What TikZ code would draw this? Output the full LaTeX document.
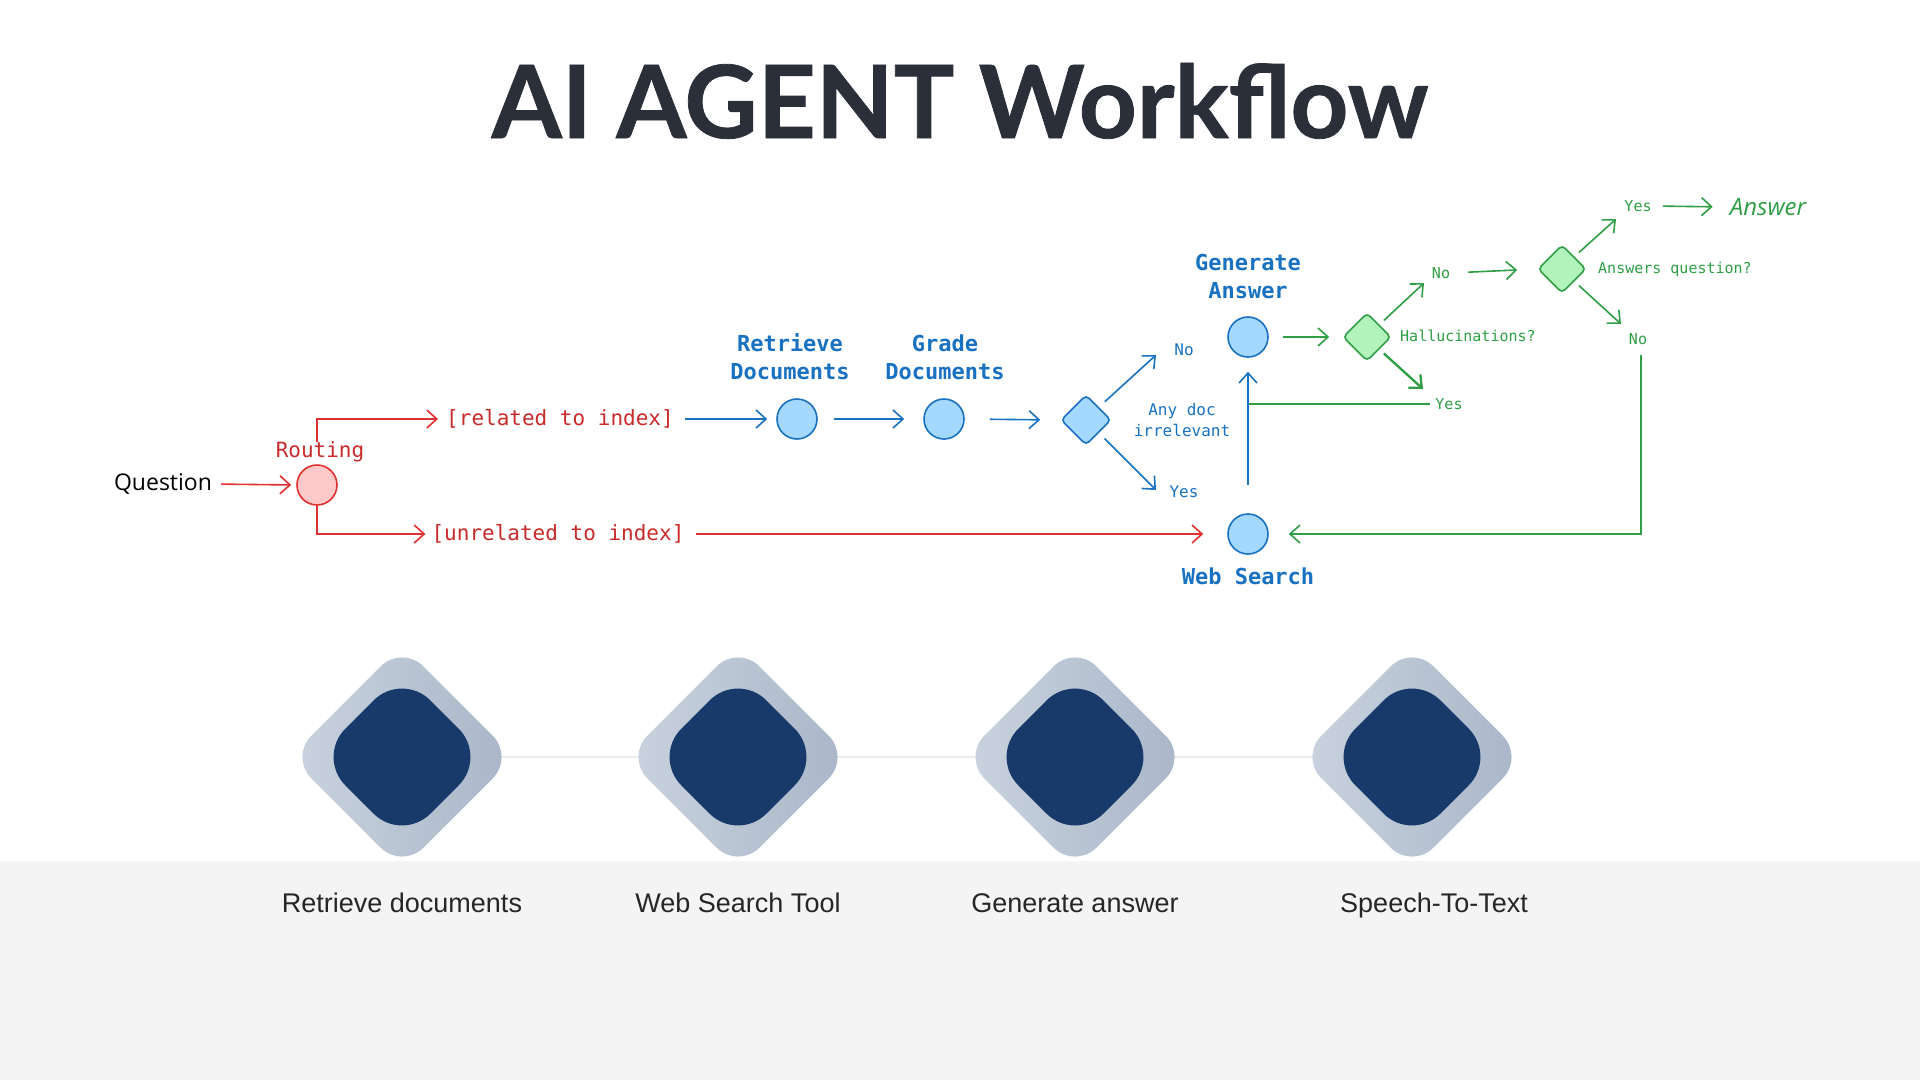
\documentclass[tikz,border=0pt]{standalone}
\usepackage{fontspec}
\setmainfont{Liberation Sans}
\newfontfamily\mytitle{Lato}[BoldFeatures={FakeBold=0.8}]
\newfontfamily\mymono{DejaVu Sans Mono}
\newfontfamily\myhand{Open Sans}
\usetikzlibrary{arrows.meta,shapes.geometric,calc}

\definecolor{blueS}{HTML}{1971C2}
\definecolor{blueF}{HTML}{A5D8FF}
\definecolor{redS}{HTML}{E03131}
\definecolor{redT}{HTML}{C92A2A}
\definecolor{redF}{HTML}{FFC9C9}
\definecolor{greenS}{HTML}{2F9E44}
\definecolor{greenF}{HTML}{B2F2BB}
\definecolor{titleC}{HTML}{2A2F3A}
\definecolor{bandC}{HTML}{F4F4F4}
\definecolor{outerL}{HTML}{CAD3DF}
\definecolor{outerR}{HTML}{A9B6C8}
\definecolor{innerC}{HTML}{173A6B}
\definecolor{lineC}{HTML}{ECECEC}

\begin{document}
\begin{tikzpicture}[x=1pt,y=-1pt,
  arr/.style={-{Straight Barb[length=10pt,width=18pt]}, line width=1.6pt},
  plain/.style={line width=1.6pt},
  circ/.style={circle, draw=blueS, fill=blueF, line width=1.6pt, minimum size=40pt, inner sep=0pt},
  dia/.style={diamond, line width=1.6pt, minimum size=50pt, rounded corners=4pt, inner sep=0pt},
  nodelbl/.style={font=\mymono\bfseries\fontsize{22}{28}\selectfont, align=center, text=blueS, inner sep=0pt},
  redlbl/.style={font=\mymono\fontsize{21}{25}\selectfont, text=redT, inner sep=0pt},
  bluesmall/.style={font=\mymono\fontsize{16}{21}\selectfont, text=blueS, align=center, inner sep=0pt},
  greensmall/.style={font=\mymono\fontsize{15}{19}\selectfont, text=greenS, inner sep=0pt},
  bottomlbl/.style={font=\fontsize{27}{32}\selectfont, text=black!85, inner sep=0pt, anchor=base}
]
\useasboundingbox (0,0) rectangle (1920,1080);
\fill[white] (0,0) rectangle (1920,1080);
\fill[bandC] (0,861) rectangle (1920,1080);

% title
\node[font=\mytitle\bfseries\fontsize{101}{108}\selectfont, text=titleC, anchor=base, inner sep=0pt] (title) at (960,138) {AI AGENT Workflow};

% ---------- flowchart ----------
\node[circ, draw=redS, fill=redF] (routing) at (317,485) {};
\node[redlbl] (routinglbl) at (320,452) {Routing};
\node[font=\myhand\fontsize{23}{27}\selectfont, inner sep=0pt] (question) at (163,484) {Question};
\node[redlbl] (related) at (560,419) {[related to index]};
\node[redlbl] (unrelated) at (558,534) {[unrelated to index]};

\node[circ] (retrieve) at (797,419) {};
\node[nodelbl] (retrievelbl) at (790,357) {Retrieve\\Documents};
\node[circ] (grade) at (944,419) {};
\node[nodelbl] (gradelbl) at (945,357) {Grade\\Documents};
\node[dia, draw=blueS, fill=blueF] (docq) at (1086,420) {};
\node[bluesmall] (anydoc) at (1182,420) {Any doc\\irrelevant};
\node[bluesmall] (no1) at (1184,350) {No};
\node[bluesmall] (yes1) at (1184,492) {Yes};
\node[circ] (generate) at (1248,337) {};
\node[nodelbl] (generatelbl) at (1248,276) {Generate\\Answer};
\node[circ] (web) at (1248,534) {};
\node[nodelbl] (weblbl) at (1248,576) {Web Search};

\node[dia, draw=greenS, fill=greenF, minimum size=48pt] (hall) at (1367,337) {};
\node[greensmall, anchor=west] (halllbl) at (1400,336) {Hallucinations?};
\node[greensmall] (no2) at (1441,273) {No};
\node[greensmall] (yes2) at (1449,404) {Yes};
\node[dia, draw=greenS, fill=greenF, minimum size=48pt] (answers) at (1562,269) {};
\node[greensmall, anchor=west] (anslbl) at (1598,269) {Answers question?};
\node[greensmall] (yes3) at (1638,206) {Yes};
\node[greensmall] (no3) at (1638,339) {No};
\node[font=\myhand\itshape\fontsize{24}{28}\selectfont, text=greenS, inner sep=0pt] (answer) at (1768,207) {Answer};

\coordinate (noend) at (1156,355);
\coordinate (yesend) at (1156,490);
\coordinate (no2end) at (1424,283);
\coordinate (yes2end) at (1423,389);
\coordinate (yes3end) at (1616,219);
\coordinate (no3end) at (1621,324);
\coordinate (join) at (1249,404);
\coordinate (no3top) at (1641,347);

% red connectors
\draw[arr, redS, shorten <=9pt, shorten >=5pt] (question.east) -- (routing.west);
\draw[arr, redS, shorten >=8pt] (routinglbl.north -| routing) |- (related.west);
\draw[arr, redS, shorten >=6pt] (routing.south) |- (unrelated.west);
\draw[arr, redS, shorten <=11pt, shorten >=24pt] (unrelated.east) -- (web.west);

% blue connectors
\draw[arr, blueS, shorten <=11pt, shorten >=9pt] (related.east) -- (retrieve.west);
\draw[arr, blueS, shorten <=16pt, shorten >=19pt] (retrieve.east) -- (grade.west);
\draw[arr, blueS, shorten <=25pt, shorten >=20pt] (grade.east) -- (docq.west);
\draw[arr, blueS, shorten <=8pt] (docq.north east) -- (noend);
\draw[arr, blueS, shorten <=8pt] (docq.south east) -- (yesend);
\draw[arr, blueS, shorten <=28pt, shorten >=14pt] (web.north) -- (generate.south);

% green connectors
\draw[arr, greenS, shorten <=14pt, shorten >=13pt] (generate.east) -- (hall.west);
\draw[arr, greenS, shorten <=6pt] (hall.north east) -- (no2end);
\draw[arr, greenS, line width=2.3pt, shorten <=6pt] (hall.south east) -- (yes2end);
\draw[plain, greenS, shorten <=5pt] (yes2.west) -- (join);
\draw[arr, greenS, shorten <=18pt, shorten >=20pt] (no2.east) -- (answers.west);
\draw[arr, greenS, shorten <=6pt] (answers.north east) -- (yes3end);
\draw[arr, greenS, shorten <=6pt] (answers.south east) -- (no3end);
\draw[arr, greenS, shorten <=11pt, shorten >=17pt] (yes3.east) -- (answer.west);
\draw[arr, greenS, shorten <=8pt, shorten >=20pt] (no3top) |- (web.east);

% ---------- bottom tools ----------
\draw[lineC, line width=2pt] (402,757) -- (1412,757);
\foreach \cx in {402,738,1075,1412}{
  \shade[left color=outerL, right color=outerR, rounded corners=30pt]
    (\cx,645) -- (\cx+112,757) -- (\cx,869) -- (\cx-112,757) -- cycle;
  \fill[innerC, rounded corners=40pt]
    (\cx,672) -- (\cx+85,757) -- (\cx,842) -- (\cx-85,757) -- cycle;
}
\node[bottomlbl] (t1) at (402,912) {Retrieve documents};
\node[bottomlbl] (t2) at (738,912) {Web Search Tool};
\node[bottomlbl] (t3) at (1075,912) {Generate answer};
\node[bottomlbl] (t4) at (1434,912) {Speech-To-Text};
\end{tikzpicture}
\end{document}
